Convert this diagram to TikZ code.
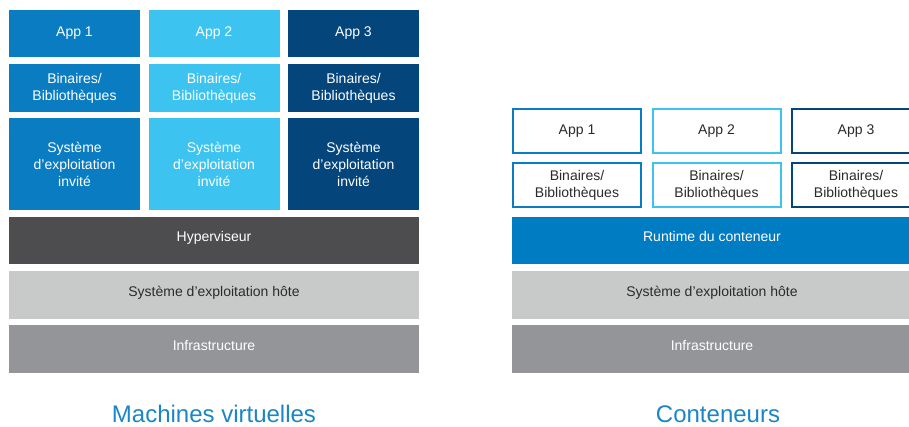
\documentclass[tikz,border=0pt]{standalone}
\usepackage{fontspec}
\setmainfont{Liberation Sans}
\usepackage{tikz}
\usetikzlibrary{positioning}
\definecolor{appone}{HTML}{0A7CC1}
\definecolor{apptwo}{HTML}{3CC3F0}
\definecolor{appthree}{HTML}{04457C}
\definecolor{hypgrey}{HTML}{4D4D4F}
\definecolor{hostgrey}{HTML}{C8C9C9}
\definecolor{infragrey}{HTML}{939598}
\definecolor{runblue}{HTML}{007CC3}
\definecolor{titleblue}{HTML}{1B86C7}
\definecolor{textdark}{HTML}{2B2B2B}

\begin{document}
\begin{tikzpicture}[x=1pt, y=-1pt,
  cell/.style={anchor=north west, inner sep=0pt, outer sep=0pt, align=center,
    font=\fontsize{14}{17}\selectfont},
  vmbox/.style={cell, text=white, minimum width=131},
  ctbox/.style={cell, line width=2pt, fill=white, text=textdark, minimum width=128},
  layer/.style={cell, minimum height=47, text height=10pt, text depth=8pt},
  title/.style={anchor=base, inner sep=0pt, text depth=0pt, text=titleblue, font=\fontsize{24}{28}\selectfont}]
  \useasboundingbox (0,0) rectangle (909,426);
  \clip (0,0) rectangle (909,426);
  % machines virtuelles
  \foreach \c/\col [count=\i] in {9/appone,148.5/apptwo,288/appthree} {
    \node[vmbox, fill=\col, minimum height=47] (vmapp\i) at (\c,10) {App \i};
    \node[vmbox, fill=\col, minimum height=48] (vmbin\i) at (\c,64) {Binaires/\\Bibliothèques};
    \node[vmbox, fill=\col, minimum height=92] (vmos\i) at (\c,118) {Système\\d'exploitation\\invité};
  }
  \node[layer, fill=hypgrey, text=white, minimum width=410] (vmhyp) at (9,217) {Hyperviseur};
  \node[layer, fill=hostgrey, text=textdark, minimum width=410, minimum height=48] (vmhost) at (9,271) {Système d’exploitation hôte};
  \node[layer, fill=infragrey, text=white, minimum width=410, minimum height=48] (vminfra) at (9,325) {Infrastructure};
  \node[title] (vmtitle) at (214,422) {Machines virtuelles};
  % conteneurs
  \foreach \c/\col [count=\i] in {512/appone,651.5/apptwo,791/appthree} {
    \node[ctbox, draw=\col, minimum height=44] (ctapp\i) at (\c+1,109) {App \i};
    \node[ctbox, draw=\col, minimum height=44] (ctbin\i) at (\c+1,163) {Binaires/\\Bibliothèques};
  }
  \node[layer, fill=runblue, text=white, minimum width=400] (ctrun) at (512,217) {Runtime du conteneur};
  \node[layer, fill=hostgrey, text=textdark, minimum width=400, minimum height=48] (cthost) at (512,271) {Système d’exploitation hôte};
  \node[layer, fill=infragrey, text=white, minimum width=400, minimum height=48] (ctinfra) at (512,325) {Infrastructure};
  \node[title] (cttitle) at (718,422) {Conteneurs};
\end{tikzpicture}
\end{document}
